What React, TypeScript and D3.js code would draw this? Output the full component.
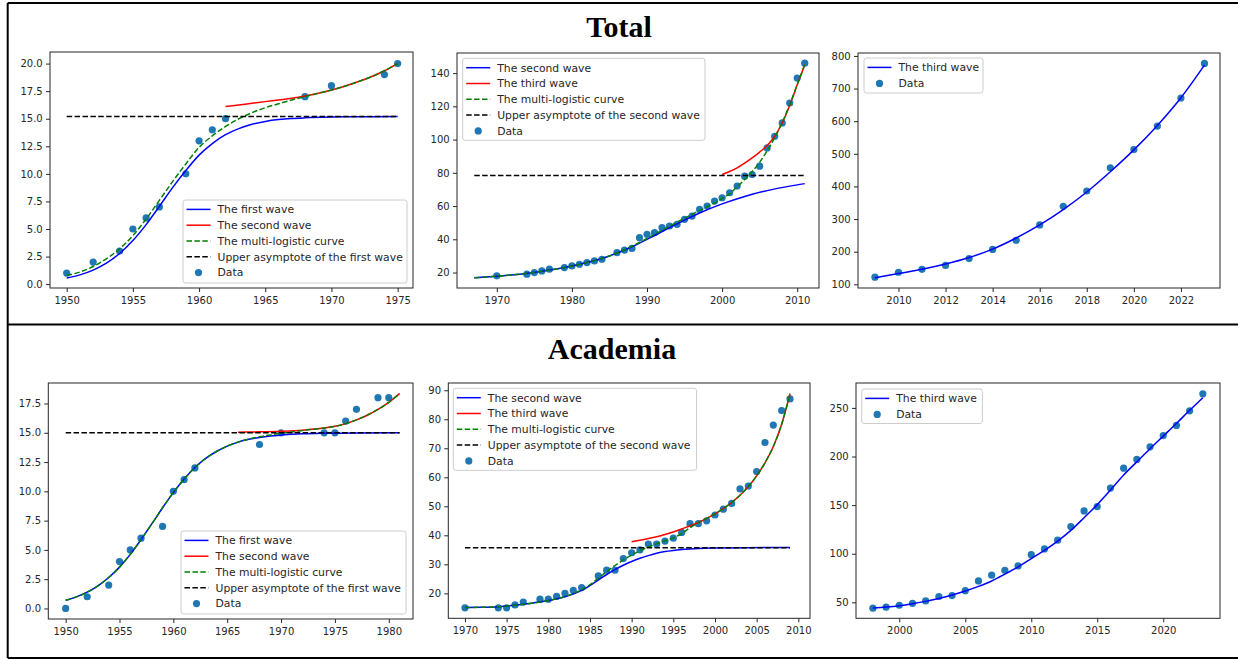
import * as d3 from "d3";
import { useEffect, useRef } from "react";

// ---------- Total, panel 1 (first / second wave) ----------
const totP1DataYears = [1950, 1952, 1954, 1955, 1956, 1957, 1959, 1960, 1961, 1962, 1968, 1970, 1974, 1975];
const totP1Data = [1, 2, 3, 5, 6, 7, 10, 13, 14, 15, 17, 18, 19, 20];
const totP1Wave1Years = [1950, 1951, 1952, 1953, 1954, 1955, 1956, 1957, 1958, 1959, 1960, 1961, 1962, 1963, 1964, 1965, 1966, 1967, 1968, 1970, 1972, 1975];
const totP1Wave1 = [0.55, 0.84, 1.27, 1.9, 2.78, 3.95, 5.4, 7.05, 8.75, 10.3, 11.7, 12.75, 13.55, 14.1, 14.5, 14.75, 14.92, 15.02, 15.08, 15.15, 15.18, 15.2];
const totP1Wave2Years = [1962, 1963, 1964, 1965, 1966, 1967, 1968, 1969, 1970, 1971, 1972, 1973, 1974, 1975];
const totP1Wave2 = [16.1, 16.25, 16.4, 16.55, 16.7, 16.85, 17.05, 17.3, 17.6, 17.95, 18.35, 18.8, 19.35, 20.0];
const totP1MultiYears = [1950, 1951, 1952, 1953, 1954, 1955, 1956, 1957, 1958, 1959, 1960, 1961, 1962, 1963, 1964, 1965, 1966, 1967, 1968, 1969, 1970, 1971, 1972, 1973, 1974, 1975];
const totP1Multi = [0.8, 1.1, 1.6, 2.3, 3.2, 4.4, 5.9, 7.6, 9.3, 10.9, 12.4, 13.45, 14.3, 15.0, 15.55, 16.0, 16.35, 16.7, 17.0, 17.3, 17.6, 17.95, 18.35, 18.8, 19.35, 20.0];
const totP1AsymYears = [1950, 1975];
const totP1Asym = [15.2, 15.2];

// ---------- Total, panel 2 (second / third wave) ----------
const totP2DataYears = [1970, 1974, 1975, 1976, 1977, 1979, 1980, 1981, 1982, 1983, 1984, 1986, 1987, 1988, 1989, 1990, 1991, 1992, 1993, 1994, 1995, 1996, 1997, 1998, 1999, 2000, 2001, 2002, 2003, 2004, 2005, 2006, 2007, 2008, 2009, 2010, 2011];
const totP2Data = [18, 19, 20, 21, 22, 23, 24, 25, 26, 27, 28, 32, 33.5, 34.5, 41, 43, 44, 47, 48, 49, 52, 54, 58, 60, 63, 65, 68, 72, 78, 79, 84, 95, 102, 110, 122, 137, 146];
const totP2Wave2Years = [1967, 1970, 1973, 1976, 1979, 1982, 1985, 1988, 1991, 1994, 1997, 2000, 2003, 2006, 2009, 2011];
const totP2Wave2 = [16.8, 17.8, 19.0, 20.8, 23.0, 26.0, 30.0, 35.5, 42.3, 49.3, 55.8, 61.3, 65.8, 69.3, 72.0, 73.5];
const totP2Wave3Years = [2000, 2001, 2002, 2003, 2004, 2005, 2006, 2007, 2008, 2009, 2010, 2011];
const totP2Wave3 = [79, 80.8, 83, 85.8, 89, 92.5, 96.5, 102, 110, 120.5, 133, 145];
const totP2MultiYears = [1967, 1970, 1973, 1976, 1979, 1982, 1985, 1988, 1990, 1992, 1994, 1996, 1998, 2000, 2001, 2002, 2003, 2004, 2005, 2006, 2007, 2008, 2009, 2010, 2011];
const totP2Multi = [16.8, 17.8, 19.0, 20.8, 23.0, 26.0, 30.0, 35.8, 40.5, 45.5, 50.3, 55.0, 59.6, 64.5, 67.5, 71.5, 76.0, 80.8, 86.3, 93.3, 101.3, 110.3, 121.0, 133.0, 145.0];
const totP2AsymYears = [1967, 2011];
const totP2Asym = [78.4, 78.4];

// ---------- Total, panel 3 (third wave) ----------
const totP3Years = [2009, 2010, 2011, 2012, 2013, 2014, 2015, 2016, 2017, 2018, 2019, 2020, 2021, 2022, 2023];
const totP3Data = [122, 137, 146, 158, 179, 207, 235, 282, 339, 386, 457, 513, 585, 671, 777];
const totP3Wave3 = [120, 133, 146, 162, 182, 208, 242, 282, 329, 383, 445, 512, 587, 672, 772];

// ---------- Academia, panel 1 ----------
const acaP1DataYears = [1950, 1952, 1954, 1955, 1956, 1957, 1959, 1960, 1961, 1962, 1968, 1970, 1974, 1975, 1976, 1977, 1979, 1980];
const acaP1Data = [0, 1, 2, 4, 5, 6, 7, 10, 11, 12, 14, 15, 15, 15, 16, 17, 18, 18];
const acaP1Wave1Years = [1950, 1951, 1952, 1953, 1954, 1955, 1956, 1957, 1958, 1959, 1960, 1961, 1962, 1963, 1964, 1965, 1966, 1967, 1968, 1969, 1970, 1972, 1974, 1977, 1981];
const acaP1Wave1 = [0.7, 0.99, 1.39, 1.93, 2.64, 3.53, 4.62, 5.88, 7.22, 8.6, 9.89, 11.05, 12.03, 12.81, 13.4, 13.86, 14.2, 14.44, 14.6, 14.72, 14.8, 14.91, 14.96, 14.99, 15.0];
const acaP1Wave2Years = [1966, 1968, 1970, 1972, 1974, 1975, 1976, 1977, 1978, 1979, 1980, 1981];
const acaP1Wave2 = [15.05, 15.08, 15.13, 15.22, 15.4, 15.55, 15.78, 16.1, 16.5, 17.0, 17.6, 18.35];
const acaP1MultiYears = [1950, 1951, 1952, 1953, 1954, 1955, 1956, 1957, 1958, 1959, 1960, 1961, 1962, 1963, 1964, 1965, 1966, 1967, 1968, 1969, 1970, 1971, 1972, 1974, 1975, 1976, 1977, 1978, 1979, 1980, 1981];
const acaP1Multi = [0.7, 0.99, 1.39, 1.93, 2.64, 3.53, 4.62, 5.88, 7.22, 8.6, 9.89, 11.05, 12.03, 12.81, 13.4, 13.86, 14.2, 14.46, 14.66, 14.82, 14.95, 15.07, 15.2, 15.4, 15.55, 15.78, 16.1, 16.5, 17.0, 17.6, 18.35];
const acaP1AsymYears = [1950, 1981];
const acaP1Asym = [15.0, 15.0];

// ---------- Academia, panel 2 ----------
const acaP2DataYears = [1970, 1974, 1975, 1976, 1977, 1979, 1980, 1981, 1982, 1983, 1984, 1986, 1987, 1988, 1989, 1990, 1991, 1992, 1993, 1994, 1995, 1996, 1997, 1998, 1999, 2000, 2001, 2002, 2003, 2004, 2005, 2006, 2007, 2008, 2009];
const acaP2Data = [15, 15, 15, 16, 17, 18, 18, 19, 20, 21, 22, 26, 28, 28, 32, 34, 35, 37, 37, 38, 39, 41, 44, 44, 45, 47, 49, 51, 56, 57, 62, 72, 78, 83, 87];
const acaP2Wave2Years = [1970, 1972, 1974, 1976, 1978, 1980, 1982, 1984, 1985, 1986, 1987, 1988, 1989, 1990, 1991, 1992, 1993, 1994, 1995, 1996, 1998, 2000, 2004, 2009];
const acaP2Wave2 = [15.1, 15.2, 15.4, 15.9, 16.6, 17.5, 18.8, 21.0, 22.7, 24.6, 26.5, 28.2, 29.7, 31.0, 32.1, 33.0, 33.8, 34.4, 34.8, 35.1, 35.5, 35.65, 35.75, 35.8];
const acaP2Wave3Years = [1990, 1992, 1994, 1996, 1998, 2000, 2002, 2003, 2004, 2005, 2006, 2007, 2008, 2009];
const acaP2Wave3 = [37.8, 38.9, 40.3, 42.2, 44.4, 47.4, 51.3, 53.8, 56.8, 60.5, 65.0, 70.6, 78.3, 88.8];
const acaP2MultiYears = [1970, 1972, 1974, 1976, 1978, 1980, 1982, 1984, 1985, 1986, 1987, 1988, 1989, 1990, 1991, 1992, 1993, 1994, 1995, 1996, 1997, 1998, 2000, 2002, 2003, 2004, 2005, 2006, 2007, 2008, 2009];
const acaP2Multi = [15.1, 15.2, 15.4, 15.9, 16.6, 17.5, 18.9, 21.3, 23.0, 25.2, 27.5, 29.6, 31.5, 33.2, 34.7, 36.0, 37.1, 38.1, 39.1, 40.6, 42.6, 44.4, 47.4, 51.3, 53.8, 56.8, 60.5, 65.0, 70.6, 78.3, 88.8];
const acaP2AsymYears = [1970, 2009];
const acaP2Asym = [35.75, 35.75];

// ---------- Academia, panel 3 ----------
const acaP3Years = [1998, 1999, 2000, 2001, 2002, 2003, 2004, 2005, 2006, 2007, 2008, 2009, 2010, 2011, 2012, 2013, 2014, 2015, 2016, 2017, 2018, 2019, 2020, 2021, 2022, 2023];
const acaP3Data = [44, 45, 47, 49, 51.5, 56, 57, 62, 72, 78, 83, 87.5, 99, 105, 114, 128, 144, 148.5, 167.5, 188, 197, 210, 221.5, 232, 247, 264.5];
const acaP3Wave3 = [44.2, 45.2, 46.6, 48.6, 51.0, 54.0, 57.5, 61.6, 66.4, 72.0, 79.0, 86.5, 95.0, 103.5, 113.0, 124.0, 137.0, 150.5, 165.5, 181.0, 194.5, 208.0, 221.0, 234.0, 247.5, 260.5];

// tick values
const totP1XTicks = [1950, 1955, 1960, 1965, 1970, 1975];
const totP1YTicks = [0, 2.5, 5, 7.5, 10, 12.5, 15, 17.5, 20];
const totP2XTicks = [1970, 1980, 1990, 2000, 2010];
const totP2YTicks = [20, 40, 60, 80, 100, 120, 140];
const totP3XTicks = [2010, 2012, 2014, 2016, 2018, 2020, 2022];
const totP3YTicks = [100, 200, 300, 400, 500, 600, 700, 800];
const acaP1XTicks = [1950, 1955, 1960, 1965, 1970, 1975, 1980];
const acaP1YTicks = [0, 2.5, 5, 7.5, 10, 12.5, 15, 17.5];
const acaP2XTicks = [1970, 1975, 1980, 1985, 1990, 1995, 2000, 2005, 2010];
const acaP2YTicks = [20, 30, 40, 50, 60, 70, 80, 90];
const acaP3XTicks = [2000, 2005, 2010, 2015, 2020];
const acaP3YTicks = [50, 100, 150, 200, 250];

const rowTitles = ["Total", "Academia"];

type Curve = { years: number[]; values: number[]; color: string; dashed?: boolean; label: string };
type Panel = {
  box: [number, number, number, number];
  xDomain: [number, number];
  yDomain: [number, number];
  xTicks: number[];
  yTicks: number[];
  yFmt: string;
  curves: Curve[];
  dataYears: number[];
  data: number[];
  legend: { x: number; y: number; w: number; h: number; step: number };
};

const BLUE = "#0000ff";
const RED = "#ff0000";
const GREEN = "#008000";
const BLACK = "#000000";
const DOT = "#1f77b4";

const panels: Panel[] = [
  {
    box: [50, 52, 413, 288],
    xDomain: [1948.74, 1976.16],
    yDomain: [-0.35, 21.05],
    xTicks: totP1XTicks,
    yTicks: totP1YTicks,
    yFmt: ".1f",
    curves: [
      { years: totP1Wave1Years, values: totP1Wave1, color: BLUE, label: "The first wave" },
      { years: totP1Wave2Years, values: totP1Wave2, color: RED, label: "The second wave" },
      { years: totP1MultiYears, values: totP1Multi, color: GREEN, dashed: true, label: "The multi-logistic curve" },
      { years: totP1AsymYears, values: totP1Asym, color: BLACK, dashed: true, label: "Upper asymptote of the first wave" },
    ],
    dataYears: totP1DataYears,
    data: totP1Data,
    legend: { x: 183, y: 200, w: 224, h: 83, step: 15.8 },
  },
  {
    box: [457, 53, 819, 288],
    xDomain: [1964.7, 2012.9],
    yDomain: [10.7, 152.1],
    xTicks: totP2XTicks,
    yTicks: totP2YTicks,
    yFmt: "d",
    curves: [
      { years: totP2Wave2Years, values: totP2Wave2, color: BLUE, label: "The second wave" },
      { years: totP2Wave3Years, values: totP2Wave3, color: RED, label: "The third wave" },
      { years: totP2MultiYears, values: totP2Multi, color: GREEN, dashed: true, label: "The multi-logistic curve" },
      { years: totP2AsymYears, values: totP2Asym, color: BLACK, dashed: true, label: "Upper asymptote of the second wave" },
    ],
    dataYears: totP2DataYears,
    data: totP2Data,
    legend: { x: 462.7, y: 58.3, w: 242.3, h: 82, step: 15.8 },
  },
  {
    box: [858, 53, 1220, 288],
    xDomain: [2008.28, 2023.66],
    yDomain: [88.7, 809],
    xTicks: totP3XTicks,
    yTicks: totP3YTicks,
    yFmt: "d",
    curves: [{ years: totP3Years, values: totP3Wave3, color: BLUE, label: "The third wave" }],
    dataYears: totP3Years,
    data: totP3Data,
    legend: { x: 864, y: 58, w: 119, h: 35, step: 16 },
  },
  {
    box: [48.3, 383, 413, 619],
    xDomain: [1948.39, 1982.25],
    yDomain: [-0.9, 19.25],
    xTicks: acaP1XTicks,
    yTicks: acaP1YTicks,
    yFmt: ".1f",
    curves: [
      { years: acaP1Wave1Years, values: acaP1Wave1, color: BLUE, label: "The first wave" },
      { years: acaP1Wave2Years, values: acaP1Wave2, color: RED, label: "The second wave" },
      { years: acaP1MultiYears, values: acaP1Multi, color: GREEN, dashed: true, label: "The multi-logistic curve" },
      { years: acaP1AsymYears, values: acaP1Asym, color: BLACK, dashed: true, label: "Upper asymptote of the first wave" },
    ],
    dataYears: acaP1DataYears,
    data: acaP1Data,
    legend: { x: 181, y: 531, w: 225, h: 83, step: 15.8 },
  },
  {
    box: [448.3, 383, 810, 618.3],
    xDomain: [1968.0, 2011.4],
    yDomain: [11.4, 92.5],
    xTicks: acaP2XTicks,
    yTicks: acaP2YTicks,
    yFmt: "d",
    curves: [
      { years: acaP2Wave2Years, values: acaP2Wave2, color: BLUE, label: "The second wave" },
      { years: acaP2Wave3Years, values: acaP2Wave3, color: RED, label: "The third wave" },
      { years: acaP2MultiYears, values: acaP2Multi, color: GREEN, dashed: true, label: "The multi-logistic curve" },
      { years: acaP2AsymYears, values: acaP2Asym, color: BLACK, dashed: true, label: "Upper asymptote of the second wave" },
    ],
    dataYears: acaP2DataYears,
    data: acaP2Data,
    legend: { x: 453.3, y: 388.3, w: 243.3, h: 82, step: 15.8 },
  },
  {
    box: [856, 383, 1220, 618.3],
    xDomain: [1996.72, 2024.3],
    yDomain: [33.6, 275.6],
    xTicks: acaP3XTicks,
    yTicks: acaP3YTicks,
    yFmt: "d",
    curves: [{ years: acaP3Years, values: acaP3Wave3, color: BLUE, label: "The third wave" }],
    dataYears: acaP3Years,
    data: acaP3Data,
    legend: { x: 861.7, y: 389, w: 120.7, h: 34.5, step: 16 },
  },
];

const FONT = "DejaVu Sans, sans-serif";

function drawPanel(svg: d3.Selection<SVGSVGElement, unknown, null, undefined>, p: Panel) {
  const [l, t, r, b] = p.box;
  const x = d3.scaleLinear().domain(p.xDomain).range([l, r]);
  const y = d3.scaleLinear().domain(p.yDomain).range([b, t]);
  const g = svg.append("g");

  // scatter under the lines (matplotlib zorder)
  g.append("g")
    .selectAll("circle")
    .data(d3.zip(p.dataYears, p.data))
    .join("circle")
    .attr("cx", (d) => x(d[0]))
    .attr("cy", (d) => y(d[1]))
    .attr("r", 3.6)
    .attr("fill", DOT);

  const line = d3
    .line<number[]>()
    .x((d) => x(d[0]))
    .y((d) => y(d[1]))
    .curve(d3.curveMonotoneX);

  p.curves.forEach((c) => {
    g.append("path")
      .datum(d3.zip(c.years, c.values))
      .attr("d", line)
      .attr("fill", "none")
      .attr("stroke", c.color)
      .attr("stroke-width", 1.5)
      .attr("stroke-dasharray", c.dashed ? "5.5,2.4" : null);
  });

  g.append("rect")
    .attr("x", l)
    .attr("y", t)
    .attr("width", r - l)
    .attr("height", b - t)
    .attr("fill", "none")
    .attr("stroke", "#262626")
    .attr("stroke-width", 1);

  const styleAxis = (a: d3.Selection<SVGGElement, unknown, null, undefined>) => {
    a.select(".domain").remove();
    a.selectAll("line").attr("stroke", "#262626");
    a.selectAll("text").attr("fill", "#262626").attr("font-size", 10).attr("font-family", FONT);
  };

  g.append("g")
    .attr("transform", `translate(0,${b})`)
    .call(d3.axisBottom(x).tickValues(p.xTicks).tickFormat(d3.format("d")).tickSize(4).tickPadding(5))
    .call(styleAxis);

  g.append("g")
    .attr("transform", `translate(${l},0)`)
    .call(
      d3
        .axisLeft(y)
        .tickValues(p.yTicks)
        .tickFormat(d3.format(p.yFmt) as any)
        .tickSize(4)
        .tickPadding(3.3)
    )
    .call(styleAxis);

  // legend
  const lg = p.legend;
  const leg = g.append("g");
  leg
    .append("rect")
    .attr("x", lg.x)
    .attr("y", lg.y)
    .attr("width", lg.w)
    .attr("height", lg.h)
    .attr("rx", 2.5)
    .attr("fill", "#fff")
    .attr("fill-opacity", 0.8)
    .attr("stroke", "#cccccc")
    .attr("stroke-width", 1);

  const entries = [
    ...p.curves.map((c) => ({ label: c.label, color: c.color, dashed: !!c.dashed, dot: false })),
    { label: "Data", color: DOT, dashed: false, dot: true },
  ];
  entries.forEach((e, i) => {
    const cy = lg.y + 9.4 + i * lg.step;
    const hx = lg.x + 3.5;
    if (e.dot) {
      leg.append("circle").attr("cx", hx + 12).attr("cy", cy).attr("r", 3.6).attr("fill", DOT);
    } else {
      leg
        .append("line")
        .attr("x1", hx)
        .attr("x2", hx + 24)
        .attr("y1", cy)
        .attr("y2", cy)
        .attr("stroke", e.color)
        .attr("stroke-width", 1.5)
        .attr("stroke-dasharray", e.dashed ? "5.5,2.4" : null);
    }
    leg
      .append("text")
      .attr("x", hx + 31)
      .attr("y", cy)
      .attr("dy", "0.36em")
      .attr("font-size", 10.8)
      .attr("font-family", FONT)
      .attr("fill", "#262626")
      .text(e.label);
  });
}

export default function App() {
  const ref = useRef<SVGSVGElement>(null);

  useEffect(() => {
    if (!ref.current) return;
    const svg = d3.select(ref.current);
    svg.selectAll("*").remove();
    const W = 1238;
    const H = 660;
    svg.append("rect").attr("width", W).attr("height", H).attr("fill", "#fff");

    // outer frame and row divider
    const frame = svg.append("g").attr("stroke", "#000").attr("stroke-width", 2);
    frame.append("line").attr("x1", 7.7).attr("x2", W).attr("y1", 3).attr("y2", 3);
    frame.append("line").attr("x1", 7.7).attr("x2", 7.7).attr("y1", 3).attr("y2", 658);
    frame.append("line").attr("x1", 7.7).attr("x2", W).attr("y1", 324.5).attr("y2", 324.5);
    frame.append("line").attr("x1", 7.7).attr("x2", W).attr("y1", 658).attr("y2", 658);

    svg
      .selectAll("text.row-title")
      .data(rowTitles)
      .join("text")
      .attr("class", "row-title")
      .attr("x", (_, i) => (i === 0 ? 619 : 612))
      .attr("y", (_, i) => (i === 0 ? 36.5 : 359))
      .attr("text-anchor", "middle")
      .attr("font-family", "Liberation Serif, Times New Roman, serif")
      .attr("font-weight", "bold")
      .attr("font-size", 30)
      .attr("fill", "#000")
      .text((d) => d);

    panels.forEach((p) => drawPanel(svg as any, p));
  }, []);

  return (
    <svg
      ref={ref}
      width={1238}
      height={660}
      style={{ position: "absolute", left: 0, top: 0 }}
      role="img"
      aria-label="Multi-logistic fits, Total and Academia"
    />
  );
}
